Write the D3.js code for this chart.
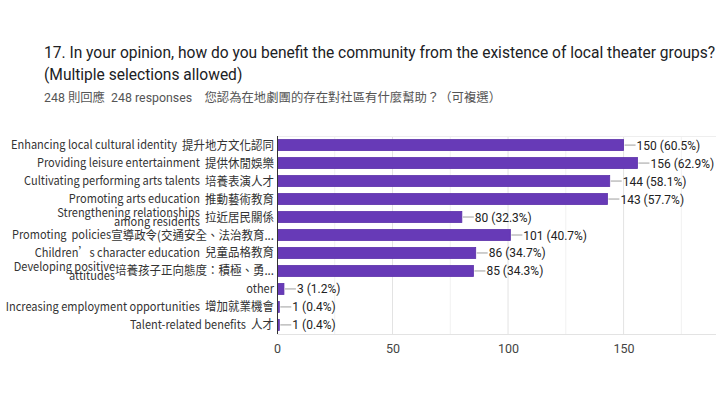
<!DOCTYPE html>
<html>
  <head>
    <meta charset="utf-8">
    <title>Community benefit of local theater groups</title>
    <style>
    body {
        margin: 0px;
        overflow: hidden;
        background: #fff;
    }

    .title {
        font-family: Roboto, sans-serif;
        font-size: 17px;
        fill: #202124;
    }

    .subtitle {
        font-family: Roboto, "Noto Sans CJK TC", sans-serif;
        font-size: 12.5px;
        fill: #555;
        white-space: pre;
    }

    .cat-label {
        font-family: "Noto Sans CJK TC", sans-serif;
        font-size: 12px;
        fill: #333;
        white-space: pre;
    }

    .cat-label.zh {
        font-size: 12.5px;
    }

    .value-label {
        font-family: Roboto, Arial, sans-serif;
        font-size: 12.5px;
        fill: #222;
    }

    .tick text {
        font-family: Roboto, Arial, sans-serif;
        font-size: 12.5px;
        fill: #444;
    }
    </style>
    <script src="https://d3js.org/d3.v7.min.js"></script>
  </head>
  <body>

    <svg width="716" height="403"></svg>

    <script>
        // english part (\n = wrapped line), chinese part (leading spaces kept)
        const labelsEn = [
            'Enhancing local cultural identity',
            'Providing leisure entertainment',
            'Cultivating performing arts talents',
            'Promoting arts education',
            'Strengthening relationships\namong residents',
            'Promoting  policies',
            'Children’s character education',
            'Developing positive\nattitudes',
            'other',
            'Increasing employment opportunities',
            'Talent-related benefits'
        ];
        const labelsZh = [
            '  提升地方文化認同',
            '  提供休閒娛樂',
            '  培養表演人才',
            '  推動藝術教育',
            '  拉近居民關係',
            '宣導政令(交通安全、法治教育...',
            '  兒童品格教育',
            '培養孩子正向態度：積極、勇...',
            '',
            '  增加就業機會',
            '  人才'
        ];
        const counts = [150, 156, 144, 143, 80, 101, 86, 85, 3, 1, 1];
        const percents = ['60.5%', '62.9%', '58.1%', '57.7%', '32.3%', '40.7%', '34.7%', '34.3%', '1.2%', '0.4%', '0.4%'];
        const xTicks = [0, 50, 100, 150];
        const minorTicks = [25, 75, 125, 175];

        const titleLines = [
            '17. In your opinion, how do you benefit the community from the existence of local theater groups?',
            '(Multiple selections allowed)'
        ];
        const subtitle = '248 則回應  248 responses    您認為在地劇團的存在對社區有什麼幫助？（可複選）';

        const svg = d3.select('svg');
        const width = +svg.attr('width');

        // the screenshot is a bit squeezed sideways, so text gets narrowed
        const titleSquash = 0.915;
        const subSquash = 0.99;
        const labelSquash = 0.92;
        const valueSquash = 0.96;

        const margin = { top: 136, left: 277, right: 0 };
        const innerWidth = width - margin.left - margin.right;
        const innerHeight = 198;

        const data = counts.map((c, i) => ({ i, count: c, pct: percents[i], en: labelsEn[i], zh: labelsZh[i] }));

        // titles
        const titleG = svg.append('g')
            .attr('transform', `translate(44,0) scale(${titleSquash},1)`);
        titleG.selectAll('.title').data(titleLines)
            .enter().append('text')
            .attr('class', 'title')
            .attr('x', 0)
            .attr('y', (d, i) => 58 + i * 22)
            .text(d => d);

        svg.append('g')
            .attr('transform', `translate(44,102) scale(${subSquash},1)`)
            .append('text')
            .attr('class', 'subtitle')
            .text(subtitle);

        const xScale = d3.scaleLinear()
            .domain([0, 190])
            .range([0, innerWidth]);

        const yScale = d3.scaleBand()
            .domain(data.map(d => d.i))
            .range([0, innerHeight])
            .paddingInner(0.39)
            .paddingOuter(0.2);

        const g = svg.append('g')
            .attr('transform', `translate(${margin.left},${margin.top})`);

        // grid
        g.selectAll('.minor').data(minorTicks)
            .enter().append('line')
            .attr('class', 'minor')
            .attr('x1', d => xScale(d)).attr('x2', d => xScale(d))
            .attr('y1', 0).attr('y2', innerHeight)
            .attr('stroke', '#f1f1f1');

        g.selectAll('.major').data(xTicks.slice(1))
            .enter().append('line')
            .attr('class', 'major')
            .attr('x1', d => xScale(d)).attr('x2', d => xScale(d))
            .attr('y1', 0).attr('y2', innerHeight)
            .attr('stroke', '#e3e3e3');

        g.append('line')
            .attr('x1', 0).attr('x2', innerWidth)
            .attr('y1', 0.5).attr('y2', 0.5)
            .attr('stroke', '#eeeeee');

        const xAxis = d3.axisBottom(xScale)
            .tickValues(xTicks)
            .tickSize(0)
            .tickPadding(10);

        const xAxisG = g.append('g')
            .attr('transform', `translate(0,${innerHeight})`)
            .call(xAxis);
        xAxisG.select('.domain').attr('stroke', '#e3e3e3');

        // bars
        g.selectAll('rect').data(data)
            .enter().append('rect')
            .attr('x', 0.5)
            .attr('y', d => yScale(d.i))
            .attr('width', d => Math.max(xScale(d.count) - 0.5, 1.5))
            .attr('height', yScale.bandwidth())
            .attr('fill', '#673ab7')
            .attr('stroke', '#5a2fa8')
            .attr('stroke-width', 0.8);

        // leader lines + values
        g.selectAll('.leader').data(data)
            .enter().append('line')
            .attr('class', 'leader')
            .attr('x1', d => xScale(d.count) + 1)
            .attr('x2', d => xScale(d.count) + 12)
            .attr('y1', d => yScale(d.i) + yScale.bandwidth() / 2)
            .attr('y2', d => yScale(d.i) + yScale.bandwidth() / 2)
            .attr('stroke', '#9e9e9e');

        g.selectAll('.value').data(data)
            .enter().append('g')
            .attr('class', 'value')
            .attr('transform', d => `translate(${xScale(d.count) + 13},${yScale(d.i) + yScale.bandwidth() / 2}) scale(${valueSquash},1)`)
            .append('text')
            .attr('class', 'value-label')
            .attr('dy', '0.36em')
            .text(d => `${d.count} (${d.pct})`);

        // category labels
        const labelG = g.selectAll('.cat').data(data)
            .enter().append('g')
            .attr('class', 'cat')
            .attr('transform', d => `translate(-3,${yScale(d.i) + yScale.bandwidth() / 2}) scale(${labelSquash},1)`);

        labelG.each(function (d) {
            const el = d3.select(this);
            let zhWidth = 0;
            if (d.zh) {
                const zt = el.append('text')
                    .attr('class', 'cat-label zh')
                    .attr('text-anchor', 'end')
                    .attr('dy', '0.36em')
                    .text(d.zh);
                zhWidth = zt.node().getComputedTextLength();
            }
            const lines = d.en.split('\n');
            const lh = 9;
            lines.forEach((line, k) => {
                el.append('text')
                    .attr('class', 'cat-label')
                    .attr('text-anchor', 'end')
                    .attr('x', -zhWidth)
                    .attr('y', (k - (lines.length - 1) / 2) * lh)
                    .attr('dy', '0.36em')
                    .text(line);
            });
        });

        // left axis line
        g.append('line')
            .attr('x1', 0.5).attr('x2', 0.5)
            .attr('y1', 0).attr('y2', innerHeight)
            .attr('stroke', '#333');
    </script>
  </body>
</html>
